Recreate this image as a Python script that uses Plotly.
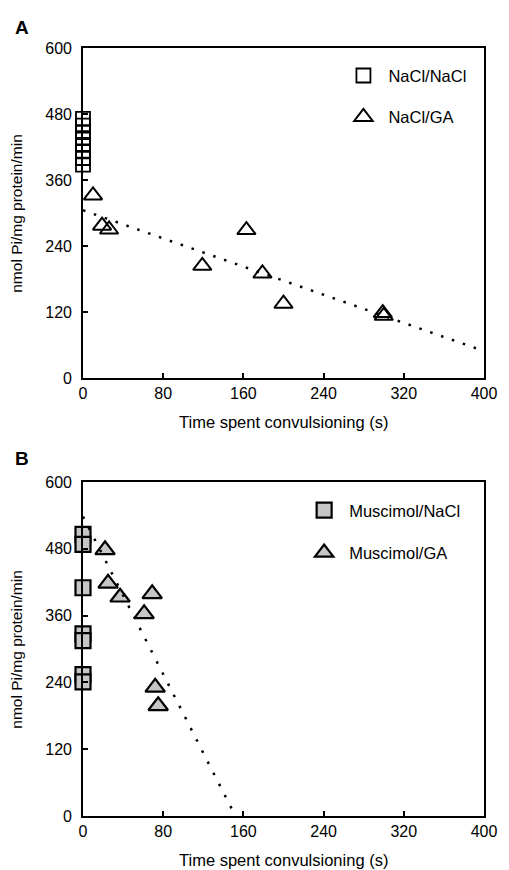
import plotly.graph_objects as go

# ---------------- data ----------------
# Panel A
a_nacl_x = [0, 0, 0, 0, 0, 0, 0, 0]
a_nacl_y = [471, 459, 447, 436, 424, 412, 400, 388]
a_ga_x = [10, 19, 26, 119, 163, 179, 200, 299, 300]
a_ga_y = [332, 277, 270, 204, 269, 190, 135, 118, 113]
a_fit_x = [0, 400]
a_fit_y = [305, 49]

# Panel B
b_nacl_x = [0, 0, 0, 0, 0, 0, 0]
b_nacl_y = [506, 488, 410, 327, 315, 254, 241]
b_ga_x = [22, 25, 37, 61, 69, 72, 75]
b_ga_y = [478, 418, 393, 363, 399, 231, 198]
b_fit_x = [0, 152]
b_fit_y = [538, 0]

x_ticks = [0, 80, 160, 240, 320, 400]
y_ticks = [0, 120, 240, 360, 480, 600]

x_title = "Time spent convulsioning (s)"
y_title = "nmol Pi/mg protein/min"

FONT = "Liberation Sans, Arial, sans-serif"
GRAY = "#c6c6c6"

fig = go.Figure()

# Panel A traces
fig.add_trace(go.Scatter(
    x=a_nacl_x, y=a_nacl_y, mode="markers", name="NaCl/NaCl",
    marker=dict(symbol="square-open", size=14, color="black", line=dict(width=1.8, color="black")),
    cliponaxis=False, xaxis="x", yaxis="y", legend="legend", legendgroup="a1"))
fig.add_trace(go.Scatter(
    x=a_ga_x, y=a_ga_y, mode="markers", name="NaCl/GA",
    marker=dict(symbol="triangle-up-open", size=16, color="black", line=dict(width=2, color="black")),
    cliponaxis=False, xaxis="x", yaxis="y", legend="legend", legendgroup="a2"))
fig.add_trace(go.Scatter(
    x=a_fit_x, y=a_fit_y, mode="lines", showlegend=False,
    line=dict(color="black", width=2.5, dash="2.5px,9px"),
    xaxis="x", yaxis="y"))

# Panel B traces
fig.add_trace(go.Scatter(
    x=b_nacl_x, y=b_nacl_y, mode="markers", name="Muscimol/NaCl",
    marker=dict(symbol="square", size=15, color=GRAY, line=dict(width=2.2, color="black")),
    cliponaxis=False, xaxis="x2", yaxis="y2", legend="legend2", legendgroup="b1"))
fig.add_trace(go.Scatter(
    x=b_ga_x, y=b_ga_y, mode="markers", name="Muscimol/GA",
    marker=dict(symbol="triangle-up", size=17, color=GRAY, line=dict(width=2.2, color="black")),
    cliponaxis=False, xaxis="x2", yaxis="y2", legend="legend2", legendgroup="b2"))
fig.add_trace(go.Scatter(
    x=b_fit_x, y=b_fit_y, mode="lines", showlegend=False,
    line=dict(color="black", width=2.5, dash="2.5px,10px"),
    xaxis="x2", yaxis="y2"))

axis_common = dict(
    showgrid=False, zeroline=False, showline=True, linecolor="black", linewidth=1.6,
    mirror=True, ticks="inside", ticklen=5, tickwidth=1.5, tickcolor="black",
    tickfont=dict(family=FONT, size=16, color="black"),
)

fig.update_layout(
    width=509, height=870,
    margin=dict(l=83, r=16, t=48, b=54),
    paper_bgcolor="white", plot_bgcolor="white",
    font=dict(family=FONT, color="black"),
    xaxis=dict(range=[0, 400], tickvals=x_ticks, ticklabelstandoff=0, anchor="y", **axis_common),
    yaxis=dict(range=[0, 600], tickvals=y_ticks, domain=[0.5703, 1.0], ticklabelstandoff=6, anchor="x", **axis_common),
    xaxis2=dict(range=[0, 400], tickvals=x_ticks, ticklabelstandoff=0, anchor="y2", **axis_common),
    yaxis2=dict(range=[0, 600], tickvals=y_ticks, domain=[0.0, 0.4349], ticklabelstandoff=6, anchor="x2", **axis_common),
    legend=dict(x=0.637, y=0.9866, xanchor="left", yanchor="top", bgcolor="rgba(0,0,0,0)",
                font=dict(family=FONT, size=16.5, color="black"), itemwidth=40,
                traceorder="grouped", tracegroupgap=17),
    legend2=dict(x=0.539, y=0.4206, xanchor="left", yanchor="top", bgcolor="rgba(0,0,0,0)",
                 font=dict(family=FONT, size=16.5, color="black"), itemwidth=40,
                 traceorder="grouped", tracegroupgap=18),
    showlegend=True,
)

annots = [
    dict(text="<b>A</b>", x=-0.151, y=1.0273, font=dict(size=19)),
    dict(text="<b>B</b>", x=-0.151, y=0.466, font=dict(size=19)),
    dict(text=x_title, x=0.5, y=0.513, font=dict(size=16.5)),
    dict(text=x_title, x=0.5, y=-0.0573, font=dict(size=16.5)),
    dict(text=y_title, x=-0.168, y=0.785, textangle=-90, font=dict(size=15.5)),
    dict(text=y_title, x=-0.168, y=0.2174, textangle=-90, font=dict(size=15.5)),
]
for a in annots:
    a.update(xref="paper", yref="paper", showarrow=False, xanchor="center", yanchor="middle")
    a["font"].update(family=FONT, color="black")
    fig.add_annotation(**a)

fig.write_html("out.html", config={"displayModeBar": False},
               post_script="document.body.style.margin='0';document.body.style.overflow='hidden';")
